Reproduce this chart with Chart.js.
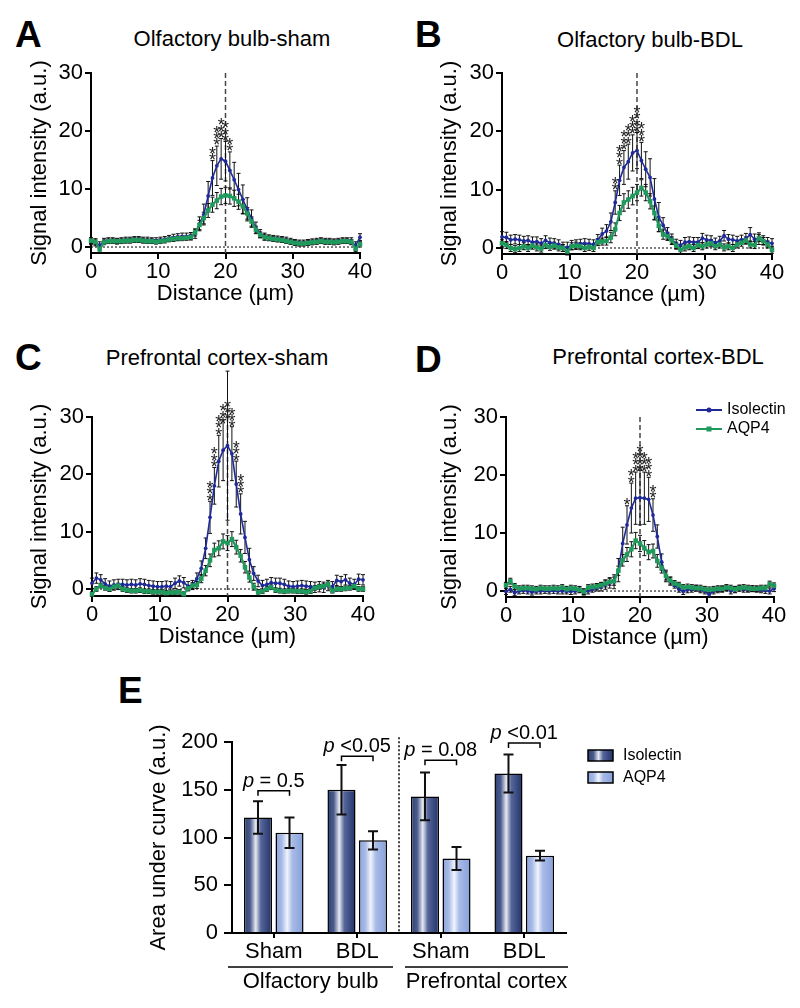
<!DOCTYPE html>
<html>
<head>
<meta charset="utf-8">
<script src="https://cdn.jsdelivr.net/npm/chart.js@4"></script>
<style>
  body { margin: 0; width: 800px; height: 1008px; background: #fff; position: relative; overflow: hidden;
         font-family: "Liberation Sans", Arial, Helvetica, sans-serif; }
  canvas { position: absolute; }
  .letter { position: absolute; font-weight: bold; font-size: 37px; line-height: 1; color: #000; }
  .title { position: absolute; font-size: 22px; line-height: 1; color: #000; white-space: nowrap; transform: translate(-50%, -50%); }
</style>
</head>
<body>
<div class="letter" style="left:15px;top:15.7px">A</div>
<div class="letter" style="left:415px;top:15.7px">B</div>
<div class="letter" style="left:15px;top:338.7px">C</div>
<div class="letter" style="left:415px;top:340.7px">D</div>
<div class="letter" style="left:118px;top:671.7px">E</div>
<div class="title" style="left:232px;top:39px">Olfactory bulb-sham</div>
<div class="title" style="left:650px;top:40px">Olfactory bulb-BDL</div>
<div class="title" style="left:217px;top:358px">Prefrontal cortex-sham</div>
<div class="title" style="left:658px;top:357px">Prefrontal cortex-BDL</div>

<canvas id="chartA"></canvas>
<canvas id="chartB"></canvas>
<canvas id="chartC"></canvas>
<canvas id="chartD"></canvas>
<canvas id="chartE"></canvas>

<script>
// ---- line profiles (A-D) ----
const distance = [
  0, 0.65, 1.29, 1.94, 2.58, 3.23, 3.87, 4.52, 5.16, 5.81,
  6.45, 7.1, 7.74, 8.39, 9.03, 9.68, 10.32, 10.97, 11.61, 12.26,
  12.9, 13.55, 14.19, 14.84, 15.48, 16.13, 16.77, 17.42, 18.06, 18.71,
  19.35, 20, 20.65, 21.29, 21.94, 22.58, 23.23, 23.87, 24.52, 25.16,
  25.81, 26.45, 27.1, 27.74, 28.39, 29.03, 29.68, 30.32, 30.97, 31.61,
  32.26, 32.9, 33.55, 34.19, 34.84, 35.48, 36.13, 36.77, 37.42, 38.06,
  38.71, 39.35, 40];
const xTicks = [0, 10, 20, 30, 40];
const yTicks = [0, 10, 20, 30];
const centerLine = 20;

// A: olfactory bulb, sham
const obShamIso = [
  1.0, 0.8, 0.3, 1.0, 1.1, 1.1, 1.0, 1.1, 1.2, 1.2,
  1.3, 1.3, 1.2, 1.2, 1.1, 1.1, 1.2, 1.3, 1.5, 1.6,
  1.7, 1.8, 1.8, 1.9, 2.3, 4.0, 5.6, 8.8, 11.9, 14.0,
  15.2, 14.8, 13.2, 11.6, 9.9, 8.2, 6.5, 4.9, 3.3, 2.3,
  1.8, 1.6, 1.5, 1.4, 1.3, 1.2, 1.0, 0.8, 0.7, 0.7,
  0.8, 0.9, 1.0, 1.1, 1.0, 1.0, 0.9, 1.0, 1.1, 1.1,
  1.0, 0.2, 1.7];
const obShamAqp = [
  1.1, 0.9, -0.4, 0.8, 1.0, 1.0, 1.0, 1.0, 1.1, 1.1,
  1.2, 1.2, 1.1, 1.0, 1.0, 0.9, 1.0, 1.1, 1.3, 1.4,
  1.5, 1.5, 1.6, 1.7, 2.5, 3.8, 5.0, 6.3, 7.3, 8.0,
  8.7, 8.9, 8.8, 8.4, 7.8, 7.0, 5.8, 4.4, 3.0, 2.1,
  1.7, 1.5, 1.4, 1.3, 1.2, 1.0, 0.9, 0.7, 0.6, 0.6,
  0.7, 0.8, 0.9, 1.0, 0.9, 0.9, 0.8, 0.9, 1.0, 1.0,
  0.9, -0.3, 0.5];
const obShamIsoErr = [
  0.6, 0.6, 0.6, 0.5, 0.5, 0.5, 0.5, 0.5, 0.5, 0.5,
  0.5, 0.5, 0.5, 0.5, 0.5, 0.5, 0.5, 0.5, 0.5, 0.6,
  0.6, 0.6, 0.6, 0.6, 0.8, 1.2, 1.8, 2.5, 3.0, 3.4,
  3.5, 3.4, 3.2, 3.0, 2.8, 2.5, 2.0, 1.5, 1.0, 0.7,
  0.6, 0.5, 0.5, 0.5, 0.5, 0.5, 0.5, 0.5, 0.5, 0.5,
  0.5, 0.5, 0.5, 0.5, 0.5, 0.5, 0.5, 0.5, 0.5, 0.5,
  0.6, 0.7, 0.6];
const obShamAqpErr = [
  0.5, 0.5, 0.5, 0.4, 0.4, 0.4, 0.4, 0.4, 0.4, 0.4,
  0.4, 0.4, 0.4, 0.4, 0.4, 0.4, 0.4, 0.4, 0.4, 0.4,
  0.4, 0.4, 0.4, 0.5, 0.6, 0.8, 1.0, 1.2, 1.3, 1.4,
  1.4, 1.4, 1.4, 1.4, 1.3, 1.2, 1.0, 0.8, 0.6, 0.5,
  0.5, 0.4, 0.4, 0.4, 0.4, 0.4, 0.4, 0.4, 0.4, 0.4,
  0.4, 0.4, 0.4, 0.4, 0.4, 0.4, 0.4, 0.4, 0.4, 0.4,
  0.4, 0.5, 0.5];
const obShamStarX = [18.06, 18.71, 19.35, 20, 20.65];
const obShamStarN = [2, 3, 3, 3, 2];

// B: olfactory bulb, BDL
const obBdlIso = [
  1.9, 1.8, 1.4, 1.5, 1.4, 1.2, 1.3, 1.0, 1.1, 0.8,
  1.3, 0.9, 0.8, 0.6, 0.2, 0.1, 0.5, 0.6, 0.7, 0.8,
  0.7, 0.6, 1.4, 2.4, 2.9, 4.5, 7.8, 11.6, 13.8, 14.8,
  16.3, 16.7, 15.0, 13.5, 12.1, 8.4, 5.3, 3.9, 2.5, 1.5,
  0.7, 0.5, 1.0, 1.1, 1.0, 1.0, 1.7, 1.4, 1.3, 0.9,
  1.2, 2.1, 1.5, 1.4, 1.2, 1.4, 1.6, 2.3, 1.5, 1.6,
  1.3, 1.0, 0.8];
const obBdlAqp = [
  0.8, 0.5, 0.0, -0.2, 0.0, 0.3, 0.0, 0.4, 0.1, -0.1,
  0.5, 0.2, 0.4, 0.1, 0.0, -0.6, 0.3, 0.4, 0.3, 0.0,
  0.2, 0.0, 1.0, 1.1, 1.2, 1.8, 3.2, 6.0, 7.8, 8.3,
  8.9, 9.5, 10.3, 9.5, 8.0, 6.0, 3.8, 2.3, 2.0, 1.3,
  0.4, -0.3, 0.1, 0.3, 0.0, 0.5, 0.3, 0.6, 0.8, 0.3,
  0.6, 0.1, 0.3, 0.0, 0.6, 0.9, 1.3, 0.6, 0.5, 1.7,
  1.2, 0.6, -0.3];
const obBdlIsoErr = [
  0.9, 0.9, 0.8, 0.8, 0.8, 0.8, 0.8, 0.9, 0.8, 0.8,
  0.8, 0.8, 0.8, 0.8, 0.8, 0.9, 0.8, 0.8, 0.8, 0.8,
  0.8, 0.8, 0.9, 1.0, 1.1, 1.5, 2.0, 2.6, 2.9, 3.0,
  3.1, 3.1, 3.1, 3.0, 3.2, 3.5, 2.5, 1.3, 1.0, 0.9,
  0.8, 0.8, 0.8, 0.8, 0.8, 0.8, 0.8, 0.8, 0.8, 0.8,
  0.8, 0.9, 0.8, 0.8, 0.8, 0.8, 0.9, 1.2, 0.9, 1.0,
  0.8, 0.8, 0.8];
const obBdlAqpErr = [
  0.6, 0.6, 0.6, 0.6, 0.6, 0.6, 0.6, 0.6, 0.6, 0.6,
  0.6, 0.6, 0.6, 0.6, 0.6, 0.6, 0.6, 0.6, 0.6, 0.6,
  0.6, 0.6, 0.6, 0.6, 0.7, 0.9, 1.1, 1.3, 1.5, 1.5,
  1.5, 1.4, 1.4, 1.4, 1.3, 1.2, 1.0, 0.8, 0.7, 0.6,
  0.6, 0.6, 0.6, 0.6, 0.6, 0.6, 0.6, 0.6, 0.6, 0.6,
  0.6, 0.6, 0.6, 0.6, 0.6, 0.6, 0.6, 0.6, 0.6, 0.6,
  0.6, 0.6, 0.6];
const obBdlStarX = [16.77, 17.42, 18.06, 18.71, 19.35, 20, 20.65];
const obBdlStarN = [2, 3, 3, 3, 3, 4, 3];

// C: prefrontal cortex, sham
const pfcShamIso = [
  1.0, 1.9, 1.6, 0.9, 0.5, 0.7, 0.8, 0.8, 0.7, 0.8,
  0.7, 0.9, 0.8, 0.6, 0.5, 0.4, 0.4, 0.5, 0.4, 1.0,
  1.4, 1.1, 0.5, 0.7, 1.8, 3.6, 7.1, 12.5, 18.0, 22.3,
  24.2, 25.0, 23.6, 18.3, 13.1, 9.0, 5.1, 2.7, 1.4, 0.6,
  0.8, 1.1, 1.0, 1.0, 0.8, 0.5, 0.4, 0.5, 0.6, 0.5,
  0.4, 0.3, 0.4, 0.3, 0.6, 0.4, 1.5, 1.3, 1.6, 1.0,
  0.8, 1.7, 1.6];
const pfcShamAqp = [
  -0.9, 0.0, 0.6, 0.2, 0.0, 0.4, 0.6, 0.0, -0.2, -0.3,
  -0.3, -0.2, -0.4, -0.4, -0.5, -0.5, -0.5, -0.7, -0.6, -0.6,
  -0.5, -0.9, 0.1, 0.6, 0.7, 1.8, 3.2, 5.0, 6.8, 7.1,
  8.3, 8.0, 8.7, 7.3, 5.8, 3.8, 2.0, 0.4, -0.6, -0.4,
  0.0, 0.3, -0.2, -0.3, -0.4, -0.3, -0.3, -0.4, -0.4, -0.5,
  -0.4, 0.2, 0.4, 0.5, 0.8, -0.3, 0.0, 0.0, 0.1, 0.2,
  0.5, 0.0, 0.0];
const pfcShamIsoErr = [
  0.9, 0.9, 0.9, 0.9, 0.9, 0.9, 0.9, 0.9, 0.9, 0.9,
  0.9, 0.9, 0.9, 0.9, 0.9, 0.9, 0.9, 0.9, 0.9, 0.9,
  0.9, 0.9, 0.8, 0.8, 1.0, 1.3, 1.8, 2.8, 3.2, 4.5,
  5.3, 13.0, 4.7, 4.0, 3.5, 2.8, 2.0, 1.2, 1.0, 0.9,
  0.9, 0.9, 0.9, 0.9, 0.9, 0.9, 0.9, 0.9, 0.9, 0.9,
  0.9, 0.9, 0.9, 0.9, 0.9, 0.9, 0.9, 0.9, 0.9, 0.9,
  0.9, 0.9, 0.9];
const pfcShamAqpErr = [
  0.4, 0.4, 0.4, 0.4, 0.4, 0.4, 0.4, 0.4, 0.4, 0.4,
  0.4, 0.4, 0.4, 0.4, 0.4, 0.4, 0.4, 0.4, 0.4, 0.4,
  0.4, 0.4, 0.4, 0.5, 0.6, 0.7, 0.9, 1.1, 1.2, 1.3,
  1.3, 1.3, 1.3, 1.2, 1.1, 1.0, 0.8, 0.6, 0.5, 0.4,
  0.4, 0.4, 0.4, 0.4, 0.4, 0.4, 0.4, 0.4, 0.4, 0.4,
  0.4, 0.4, 0.4, 0.4, 0.4, 0.4, 0.4, 0.4, 0.4, 0.4,
  0.4, 0.4, 0.4];
const pfcShamStarX = [17.42, 18.06, 18.71, 19.35, 20, 20.65, 21.29, 21.94];
const pfcShamStarN = [3, 3, 3, 3, 3, 3, 3, 3];

// D: prefrontal cortex, BDL
const pfcBdlIso = [
  -0.1, 0.3, -0.3, 0.0, 0.1, 0.0, -0.2, 0.0, 0.0, 0.1,
  0.0, 0.1, 0.0, 0.0, 0.0, -0.1, 0.0, 0.3, -0.2, 0.0,
  0.3, 0.6, 0.7, 1.1, 1.4, 1.6, 3.6, 8.2, 11.4, 14.3,
  16.0, 16.1, 16.0, 15.8, 13.1, 9.4, 5.0, 2.6, 1.7, 1.0,
  0.3, -0.1, 0.2, 0.3, 0.5, 0.2, 0.0, -0.6, 0.0, 0.2,
  0.3, 0.5, 0.0, 0.2, 0.5, 0.3, 0.3, 0.4, 0.3, 0.2,
  0.1, 0.0, 0.4];
const pfcBdlAqp = [
  1.0, 1.7, 0.8, 0.4, 0.5, 0.5, 0.4, 0.3, 0.5, 0.4,
  0.4, 0.5, 0.4, 0.6, 0.3, 0.5, 0.4, 0.2, -0.1, 0.6,
  0.7, 0.8, 1.0, 1.3, 1.6, 1.7, 3.5, 5.3, 6.3, 7.2,
  8.7, 8.2, 7.4, 6.7, 6.9, 5.2, 4.0, 2.6, 1.8, 1.3,
  1.0, 0.6, 0.7, 0.6, 0.5, 0.5, 0.3, 0.2, 0.3, 0.4,
  0.4, 0.6, 0.5, 0.3, 0.5, 0.6, 0.5, 0.4, 0.4, 0.5,
  0.5, 1.2, 0.9];
const pfcBdlIsoErr = [
  0.5, 0.5, 0.5, 0.5, 0.5, 0.5, 0.5, 0.5, 0.5, 0.5,
  0.5, 0.5, 0.5, 0.5, 0.5, 0.5, 0.5, 0.5, 0.5, 0.5,
  0.5, 0.6, 0.7, 0.8, 0.9, 1.2, 2.0, 2.8, 3.3, 4.3,
  4.5, 4.7, 4.5, 3.8, 2.8, 2.0, 1.4, 1.0, 0.7, 0.5,
  0.5, 0.5, 0.5, 0.5, 0.5, 0.5, 0.5, 0.5, 0.5, 0.5,
  0.5, 0.5, 0.5, 0.5, 0.5, 0.5, 0.5, 0.5, 0.5, 0.5,
  0.5, 0.5, 0.5];
const pfcBdlAqpErr = [
  0.5, 0.5, 0.5, 0.5, 0.5, 0.5, 0.5, 0.5, 0.5, 0.5,
  0.5, 0.5, 0.5, 0.5, 0.5, 0.5, 0.5, 0.5, 0.5, 0.5,
  0.5, 0.5, 0.5, 0.6, 0.6, 0.7, 0.8, 1.0, 1.2, 1.3,
  1.4, 1.4, 1.3, 1.3, 1.2, 1.1, 0.9, 0.7, 0.6, 0.5,
  0.5, 0.5, 0.5, 0.5, 0.5, 0.5, 0.5, 0.5, 0.5, 0.5,
  0.5, 0.5, 0.5, 0.5, 0.5, 0.5, 0.5, 0.5, 0.5, 0.5,
  0.5, 0.5, 0.5];
const pfcBdlStarX = [18.06, 18.71, 19.35, 20, 20.65, 21.29, 21.94];
const pfcBdlStarN = [1, 2, 3, 4, 3, 3, 2];

// ---- area under curve (E) ----
const groupLabels = ['Sham', 'BDL', 'Sham', 'BDL'];
const regionLabels = ['Olfactory bulb', 'Prefrontal cortex'];
const aucIsolectin = [121, 150, 143, 167];
const aucIsolectinErr = [17, 26, 25, 20];
const aucAqp4 = [105, 97, 78, 81];
const aucAqp4Err = [16, 9.5, 12, 5];
const pValueText = ['= 0.5', '<0.05', '= 0.08', '<0.01'];
const pBracketLevel = [149, 185, 181, 199];
const aucTicks = [0, 50, 100, 150, 200];

const BLUE = '#1f2a9a';
const GREEN = '#1f9a5c';
const FONT = '"Liberation Sans", Arial, Helvetica, sans-serif';
const STAR_ERR_CAP = 4.5;

function placeCanvas(id, box) {
  const cv = document.getElementById(id);
  cv.width = box.cw; cv.height = box.ch;
  cv.style.left = box.cx + 'px'; cv.style.top = box.cy + 'px';
  return cv;
}

function lineExtras(iso, aqp, isoErr, aqpErr, starX, starN, withLegend) {
  return {
    id: 'lineExtras',
    beforeDatasetsDraw(chart) {
      const { ctx, chartArea: a, scales: { x, y } } = chart;
      ctx.save();
      // dotted zero line
      const y0 = y.getPixelForValue(0);
      ctx.strokeStyle = '#000'; ctx.lineWidth = 1; ctx.setLineDash([2, 2]);
      ctx.beginPath(); ctx.moveTo(a.left, y0); ctx.lineTo(a.right, y0); ctx.stroke();
      // dashed centre line
      const xc = x.getPixelForValue(centerLine);
      ctx.strokeStyle = '#444'; ctx.lineWidth = 1.5; ctx.setLineDash([5, 3]);
      ctx.beginPath(); ctx.moveTo(xc, a.top); ctx.lineTo(xc, a.bottom); ctx.stroke();
      ctx.setLineDash([]);
      // error bars
      ctx.strokeStyle = '#111'; ctx.lineWidth = 1;
      [[iso, isoErr], [aqp, aqpErr]].forEach(([vals, errs]) => {
        vals.forEach((v, i) => {
          const px = x.getPixelForValue(distance[i]);
          const t = y.getPixelForValue(v + errs[i]);
          const b = y.getPixelForValue(v - errs[i]);
          ctx.beginPath();
          ctx.moveTo(px, t); ctx.lineTo(px, b);
          ctx.moveTo(px - 2, t); ctx.lineTo(px + 2, t);
          ctx.moveTo(px - 2, b); ctx.lineTo(px + 2, b);
          ctx.stroke();
        });
      });
      ctx.restore();
    },
    afterDatasetsDraw(chart) {
      const { ctx, chartArea: a, scales: { x, y } } = chart;
      ctx.save();
      // significance stars
      ctx.fillStyle = '#222';
      ctx.font = '18px ' + FONT;
      ctx.textAlign = 'center'; ctx.textBaseline = 'alphabetic';
      starX.forEach((d, k) => {
        const i = distance.indexOf(d);
        const px = x.getPixelForValue(d);
        const top = y.getPixelForValue(iso[i] + Math.min(isoErr[i], STAR_ERR_CAP));
        for (let s = 0; s < starN[k]; s++) {
          const cy = top - 5 - s * 6.3;
          ctx.fillText('*', px, cy + 10.4);
        }
      });
      // legend
      if (withLegend) {
        const ds = chart.data.datasets;
        const lx = a.right - 78, lw = 26;
        [[ds[0], a.top - 7, 'circle'], [ds[1], a.top + 12, 'rect']].forEach(([d, ly, st]) => {
          ctx.strokeStyle = d.borderColor; ctx.lineWidth = 2;
          ctx.beginPath(); ctx.moveTo(lx, ly); ctx.lineTo(lx + lw, ly); ctx.stroke();
          ctx.fillStyle = d.borderColor;
          if (st === 'circle') { ctx.beginPath(); ctx.arc(lx + lw / 2, ly, 2.5, 0, Math.PI * 2); ctx.fill(); }
          else ctx.fillRect(lx + lw / 2 - 2.5, ly - 2.5, 5, 5);
          ctx.fillStyle = '#000'; ctx.font = '16px ' + FONT;
          ctx.textAlign = 'left'; ctx.textBaseline = 'middle';
          ctx.fillText(d.label, lx + lw + 5, ly);
        });
      }
      ctx.restore();
    }
  };
}

function lineChart(id, box, yMin, iso, aqp, isoErr, aqpErr, starX, starN, withLegend) {
  const cv = placeCanvas(id, box);
  return new Chart(cv, {
    type: 'line',
    data: {
      datasets: [
        { label: 'Isolectin', data: distance.map((d, i) => ({ x: d, y: iso[i] })),
          borderColor: BLUE, backgroundColor: BLUE, borderWidth: 1.6,
          pointStyle: 'circle', pointRadius: 1.9, pointBorderWidth: 0, order: 1, clip: false },
        { label: 'AQP4', data: distance.map((d, i) => ({ x: d, y: aqp[i] })),
          borderColor: GREEN, backgroundColor: GREEN, borderWidth: 2.2,
          pointStyle: 'rect', pointRadius: 3.2, pointBorderWidth: 0, order: 0, clip: false }
      ]
    },
    options: {
      responsive: false, animation: false, devicePixelRatio: 1,
      layout: { padding: { left: 0, top: box.T - box.cy, right: box.cx + box.cw - box.R, bottom: 0 } },
      plugins: { legend: { display: false }, tooltip: { enabled: false } },
      scales: {
        x: {
          type: 'linear', min: 0, max: 40,
          afterBuildTicks: s => { s.ticks = xTicks.map(v => ({ value: v })); },
          afterFit: s => { s.height = box.cy + box.ch - box.B; },
          grid: { drawOnChartArea: false, tickLength: 6, color: '#000', lineWidth: 2 },
          border: { color: '#000', width: 2 },
          ticks: { color: '#000', font: { family: FONT, size: 22 }, padding: 0, maxRotation: 0 },
          title: { display: true, text: 'Distance (µm)', color: '#000',
                   font: { family: FONT, size: 22 }, padding: { top: 0, bottom: 5.8 } }
        },
        y: {
          min: yMin, max: 30,
          afterBuildTicks: s => { s.ticks = yTicks.map(v => ({ value: v })); },
          afterFit: s => { s.width = box.L - box.cx; },
          grid: { drawOnChartArea: false, tickLength: 6, color: '#000', lineWidth: 2 },
          border: { color: '#000', width: 2 },
          ticks: { color: '#000', font: { family: FONT, size: 22 }, padding: 2 },
          title: { display: true, text: 'Signal intensity (a.u.)', color: '#000',
                   font: { family: FONT, size: 22 }, padding: { top: box.yt - box.cx - 13.2, bottom: 0 } }
        }
      }
    },
    plugins: [lineExtras(iso, aqp, isoErr, aqpErr, starX, starN, withLegend)]
  });
}

lineChart('chartA', { cx: 0, cy: 33, cw: 400, ch: 280, L: 91, T: 73, R: 360, B: 253, yt: 40 }, -1.03,
  obShamIso, obShamAqp, obShamIsoErr, obShamAqpErr, obShamStarX, obShamStarN, false);
lineChart('chartB', { cx: 400, cy: 33, cw: 400, ch: 281, L: 502, T: 73, R: 772, B: 254, yt: 450 }, -1.03,
  obBdlIso, obBdlAqp, obBdlIsoErr, obBdlAqpErr, obBdlStarX, obBdlStarN, false);
lineChart('chartC', { cx: 0, cy: 355, cw: 400, ch: 301, L: 92, T: 417, R: 363, B: 596, yt: 40 }, -1.22,
  pfcShamIso, pfcShamAqp, pfcShamIsoErr, pfcShamAqpErr, pfcShamStarX, pfcShamStarN, false);
lineChart('chartD', { cx: 400, cy: 377, cw: 400, ch: 280, L: 506, T: 417, R: 774, B: 597, yt: 450 }, -1.03,
  pfcBdlIso, pfcBdlAqp, pfcBdlIsoErr, pfcBdlAqpErr, pfcBdlStarX, pfcBdlStarN, true);

// ---- bar chart E ----
const CAT_PCT = 0.755, BAR_PCT = 0.89;

function barGradient(ctx, x0, w, dark) {
  const g = ctx.createLinearGradient(x0, 0, x0 + w, 0);
  if (dark) {
    g.addColorStop(0, '#2f4074'); g.addColorStop(0.22, '#495a8b'); g.addColorStop(0.42, '#e6e9f2');
    g.addColorStop(0.6, '#56669a'); g.addColorStop(0.85, '#33457b'); g.addColorStop(1, '#25356a');
  } else {
    g.addColorStop(0, '#8ea5dc'); g.addColorStop(0.22, '#a6b9e6'); g.addColorStop(0.42, '#f0f4fc');
    g.addColorStop(0.6, '#a8bbe7'); g.addColorStop(0.85, '#93aae0'); g.addColorStop(1, '#86a0da');
  }
  return g;
}

function aucFill(c, dark) {
  const chart = c.chart, xs = chart.scales && chart.scales.x;
  if (!xs || c.dataIndex == null || !xs.width) return dark ? '#34457a' : '#9cb0e2';
  const slot = xs.width / groupLabels.length * CAT_PCT / 2;
  const w = slot * BAR_PCT;
  const center = xs.getPixelForValue(c.dataIndex) + (c.datasetIndex === 0 ? -slot / 2 : slot / 2);
  return barGradient(chart.ctx, center - w / 2, w, dark);
}

const boxE = { cx: 100, cy: 660, cw: 700, ch: 348, L: 232, T: 742, R: 566, B: 933, yt: 159 };

const aucExtras = {
  id: 'aucExtras',
  afterDraw(chart) {
    const { ctx, chartArea: a, scales: { x, y } } = chart;
    const m0 = chart.getDatasetMeta(0).data, m1 = chart.getDatasetMeta(1).data;
    ctx.save();
    // error bars
    ctx.strokeStyle = '#111'; ctx.lineWidth = 2;
    [[m0, aucIsolectin, aucIsolectinErr], [m1, aucAqp4, aucAqp4Err]].forEach(([els, vals, errs]) => {
      els.forEach((el, i) => {
        const t = y.getPixelForValue(vals[i] + errs[i]);
        const b = y.getPixelForValue(vals[i] - errs[i]);
        ctx.beginPath();
        ctx.moveTo(el.x, t); ctx.lineTo(el.x, b);
        ctx.moveTo(el.x - 5, t); ctx.lineTo(el.x + 5, t);
        ctx.moveTo(el.x - 5, b); ctx.lineTo(el.x + 5, b);
        ctx.stroke();
      });
    });
    // p-value brackets
    ctx.lineWidth = 1.5; ctx.strokeStyle = '#000'; ctx.fillStyle = '#000';
    ctx.textBaseline = 'middle'; ctx.textAlign = 'left';
    pValueText.forEach((txt, i) => {
      const x1 = m0[i].x, x2 = m1[i].x, yb = y.getPixelForValue(pBracketLevel[i]);
      ctx.beginPath();
      ctx.moveTo(x1, yb + 5); ctx.lineTo(x1, yb); ctx.lineTo(x2, yb); ctx.lineTo(x2, yb + 5);
      ctx.stroke();
      const fi = 'italic 20px ' + FONT, fn = '20px ' + FONT;
      ctx.font = fi; const wp = ctx.measureText('p').width;
      ctx.font = fn; const wr = ctx.measureText(' ' + txt).width;
      const sx = (x1 + x2) / 2 - (wp + wr) / 2;
      ctx.font = fi; ctx.fillText('p', sx, yb - 9.5);
      ctx.font = fn; ctx.fillText(' ' + txt, sx + wp, yb - 9.5);
    });
    // dotted separator between regions
    const sep = (x.getPixelForValue(1) + x.getPixelForValue(2)) / 2;
    ctx.setLineDash([2, 2]); ctx.lineWidth = 1.5;
    ctx.beginPath(); ctx.moveTo(sep, y.getPixelForValue(205)); ctx.lineTo(sep, a.bottom); ctx.stroke();
    ctx.setLineDash([]);
    // region underlines and labels
    const ly = a.bottom + 34;
    const spans = [[a.left - 4, sep - 6], [sep + 6, a.right + 2]];
    ctx.font = '22px ' + FONT; ctx.textAlign = 'center'; ctx.textBaseline = 'middle';
    spans.forEach(([s, e], k) => {
      ctx.beginPath(); ctx.moveTo(s, ly); ctx.lineTo(e, ly); ctx.stroke();
      ctx.fillText(regionLabels[k], (s + e) / 2, a.bottom + 49);
    });
    // legend
    const lx = a.right + 22;
    chart.data.datasets.forEach((d, k) => {
      const by = a.top + 8 + k * 22;
      ctx.fillStyle = barGradient(ctx, lx, 25, k === 0);
      ctx.fillRect(lx, by, 25, 11);
      ctx.strokeStyle = '#000'; ctx.lineWidth = 1.5; ctx.strokeRect(lx, by, 25, 11);
      ctx.fillStyle = '#000'; ctx.font = '16px ' + FONT;
      ctx.textAlign = 'left'; ctx.textBaseline = 'middle';
      ctx.fillText(d.label, lx + 35, by + 5.5);
    });
    ctx.restore();
  }
};

new Chart(placeCanvas('chartE', boxE), {
  type: 'bar',
  data: {
    labels: groupLabels,
    datasets: [
      { label: 'Isolectin', data: aucIsolectin, backgroundColor: c => aucFill(c, true),
        borderColor: '#000', borderWidth: 1.5, categoryPercentage: CAT_PCT, barPercentage: BAR_PCT },
      { label: 'AQP4', data: aucAqp4, backgroundColor: c => aucFill(c, false),
        borderColor: '#000', borderWidth: 1.5, categoryPercentage: CAT_PCT, barPercentage: BAR_PCT }
    ]
  },
  options: {
    responsive: false, animation: false, devicePixelRatio: 1,
    layout: { padding: { left: 0, top: boxE.T - boxE.cy, right: boxE.cx + boxE.cw - boxE.R, bottom: 0 } },
    plugins: { legend: { display: false }, tooltip: { enabled: false } },
    scales: {
      x: {
        afterFit: s => { s.height = boxE.cy + boxE.ch - boxE.B; },
        grid: { offset: false, drawOnChartArea: false, tickLength: 5, color: '#000', lineWidth: 2 },
        border: { color: '#000', width: 2 },
        ticks: { color: '#000', font: { family: FONT, size: 22 }, padding: 1 }
      },
      y: {
        min: 0, max: 200,
        afterBuildTicks: s => { s.ticks = aucTicks.map(v => ({ value: v })); },
        afterFit: s => { s.width = boxE.L - boxE.cx; },
        grid: { drawOnChartArea: false, tickLength: 8, color: '#000', lineWidth: 2 },
        border: { color: '#000', width: 2 },
        ticks: { color: '#000', font: { family: FONT, size: 22 }, padding: 6 },
        title: { display: true, text: 'Area under curve (a.u.)', color: '#000',
                 font: { family: FONT, size: 22 }, padding: { top: boxE.yt - boxE.cx - 13.2, bottom: 0 } }
      }
    }
  },
  plugins: [aucExtras]
});
</script>
</body>
</html>
